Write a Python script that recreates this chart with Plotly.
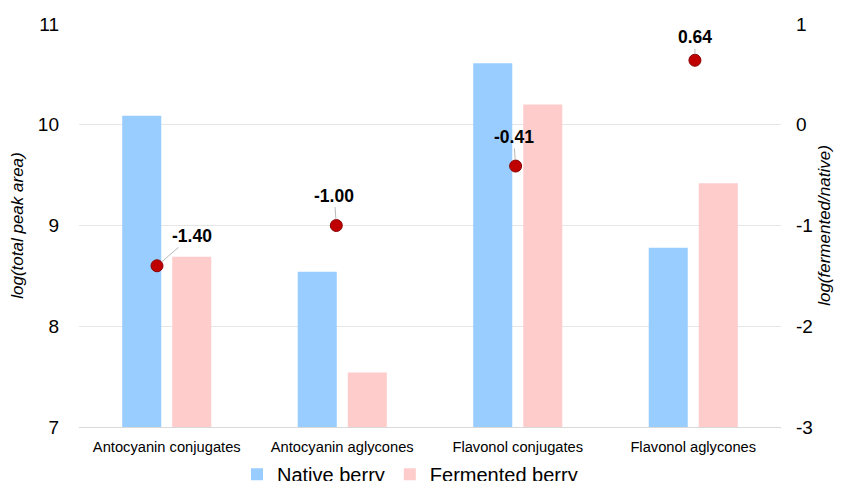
import plotly.graph_objects as go

categories = ["Antocyanin conjugates", "Antocyanin aglycones", "Flavonol conjugates", "Flavonol aglycones"]
native = [10.09, 8.54, 10.61, 8.78]
fermented = [8.69, 7.54, 10.20, 9.42]
log_ratio = [-1.40, -1.00, -0.41, 0.64]
ratio_labels = ["-1.40", "-1.00", "-0.41", "0.64"]
left_ticks = [7, 8, 9, 10, 11]
right_ticks = [-3, -2, -1, 0, 1]

label_offsets = [(35, -30), (-2, -30), (-2, -29), (0, -23)]

font = "Liberation Sans, Arial, sans-serif"

fig = go.Figure()
fig.add_trace(go.Bar(x=categories, y=native, name="Native berry",
                     marker=dict(color="#99CCFF", line=dict(width=0))))
fig.add_trace(go.Bar(x=categories, y=fermented, name="Fermented berry",
                     marker=dict(color="#FFCCCC", line=dict(width=0))))
fig.add_trace(go.Scatter(x=categories, y=log_ratio, xaxis="x2", yaxis="y2", mode="markers",
                         showlegend=False,
                         marker=dict(color="#C00000", size=12,
                                     line=dict(color="#8B0000", width=1))))

for c, v, t, (ax, ay) in zip(categories, log_ratio, ratio_labels, label_offsets):
    fig.add_annotation(x=c, y=v, xref="x2", yref="y2", text="<b>" + t + "</b>",
                       showarrow=True, arrowhead=0, arrowwidth=0.8,
                       arrowcolor="#A6A6A6", ax=ax, ay=ay, standoff=6,
                       font=dict(size=17.5, color="black", family=font))

fig.update_layout(
    width=835, height=473,
    paper_bgcolor="white", plot_bgcolor="white",
    margin=dict(l=71, r=62, t=16, b=54, autoexpand=False),
    barmode="group", bargap=0.43, bargroupgap=0.22,
    font=dict(family=font, color="black"),
    xaxis=dict(showgrid=False, showline=True, linecolor="#D9D9D9", linewidth=1,
               ticks="", tickfont=dict(size=14.7), ticklabelstandoff=6,
               automargin=False),
    xaxis2=dict(overlaying="x", visible=False, type="category",
                categoryorder="array", categoryarray=categories,
                range=[-0.435, 3.48], showgrid=False, zeroline=False),
    yaxis=dict(range=[7, 11], tickvals=left_ticks, ticktext=[str(t) for t in left_ticks],
               showgrid=True, gridcolor="#E6E6E6",
               gridwidth=1, zeroline=False, tickfont=dict(size=19),
               ticklabelstandoff=19, automargin=False,
               title=dict(text="<i>log(total peak area)</i>", font=dict(size=17), standoff=10)),
    yaxis2=dict(range=[-3, 1], tickvals=right_ticks, ticktext=[str(t) for t in right_ticks],
                overlaying="y", side="right", anchor="x",
                showgrid=False, zeroline=False, tickfont=dict(size=19),
                ticklabelstandoff=14, automargin=False,
                title=dict(text="<i>log(fermented/native)</i>", font=dict(size=17), standoff=6)),
    legend=dict(orientation="h", x=0.4715, xanchor="center", y=-0.117, yanchor="middle",
                font=dict(size=20), itemwidth=30, traceorder="normal"),
)

fig.write_html("out.html")
